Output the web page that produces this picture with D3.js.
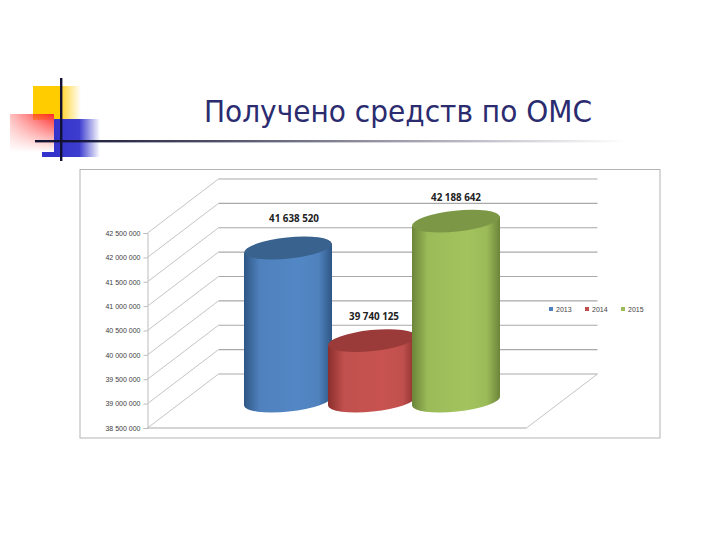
<!DOCTYPE html>
<html>
<head>
  <meta charset="UTF-8">
  <title>ОМС</title>
  <style>
    html, body { margin: 0; padding: 0; background: #fff; }
    svg { display: block; }
  </style>
</head>
<body>
  <div id="chart"></div>
  <script src="https://d3js.org/d3.v7.min.js"></script>
  <script>
    const titleText = "Получено средств по ОМС";
    const years = ["2013", "2014", "2015"];
    const values = [41638520, 39740125, 42188642];
    const valueLabels = ["41 638 520", "39 740 125", "42 188 642"];
    const tickValues = [38500000, 39000000, 39500000, 40000000, 40500000, 41000000, 41500000, 42000000, 42500000];
    const tickLabels = ["38 500 000", "39 000 000", "39 500 000", "40 000 000", "40 500 000", "41 000 000", "41 500 000", "42 000 000", "42 500 000"];
    const barColors = ["#4f81bd", "#c0504d", "#9bbb59"];
    const barEdges = ["#2f5785", "#8a2f2d", "#6c8539"];
    const barTops = ["#39628f", "#9a3b39", "#7c9846"];

    const width = 720, height = 540;
    const svg = d3.select("#chart").append("svg").attr("width", width).attr("height", height);
    const defs = svg.append("defs");

    function fade(id, c, stops, x2, y2) {
      const g = defs.append("linearGradient").attr("id", id)
        .attr("x1", 0).attr("y1", 0).attr("x2", x2).attr("y2", y2);
      stops.forEach(s => g.append("stop").attr("offset", s[0]).attr("stop-color", c).attr("stop-opacity", s[1]));
    }
    // corner decoration
    fade("yellowFade", "#ffcc00", [[0, 1], [0.58, 1], [0.62, 0.75], [1, 0]], 1, 0);
    fade("blueFade", "#3333cc", [[0, 1], [0.55, 0.95], [1, 0]], 1, 0);
    fade("redFade", "#ff2a2a", [[0, 0.3], [1, 1]], 1, 0);
    fade("lineFade", "#111133", [[0, 1], [0.3, 0.75], [1, 0]], 1, 0);
    const whiteDown = defs.append("linearGradient").attr("id", "whiteDown").attr("x1", 0).attr("y1", 0).attr("x2", 0).attr("y2", 1);
    whiteDown.append("stop").attr("offset", 0).attr("stop-color", "#fff").attr("stop-opacity", 0);
    whiteDown.append("stop").attr("offset", 1).attr("stop-color", "#fff").attr("stop-opacity", 1);

    svg.append("rect").attr("x", 33).attr("y", 86).attr("width", 48).attr("height", 34).attr("fill", "url(#yellowFade)");
    svg.append("rect").attr("x", 42).attr("y", 148).attr("width", 14).attr("height", 9).attr("fill", "#3333cc");
    svg.append("rect").attr("x", 54).attr("y", 119).attr("width", 46).attr("height", 38).attr("fill", "url(#blueFade)");
    svg.append("rect").attr("x", 10).attr("y", 114).attr("width", 44).attr("height", 38).attr("fill", "url(#redFade)");
    svg.append("rect").attr("x", 10).attr("y", 114).attr("width", 44).attr("height", 38).attr("fill", "url(#whiteDown)");
    svg.append("rect").attr("x", 35).attr("y", 140).attr("width", 590).attr("height", 2.4).attr("fill", "url(#lineFade)");
    svg.append("rect").attr("x", 60).attr("y", 78).attr("width", 2.4).attr("height", 83).attr("fill", "#111133");

    svg.append("text").attr("x", 204).attr("y", 122)
      .attr("textLength", 388).attr("lengthAdjust", "spacingAndGlyphs")
      .attr("font-family", "'DejaVu Sans', sans-serif").attr("font-size", 30)
      .attr("fill", "#2b2b70").text(titleText);

    // chart frame
    svg.append("rect").attr("x", 80).attr("y", 169.5).attr("width", 580).attr("height", 268.5)
      .attr("fill", "#fff").attr("stroke", "#b4b4b4").attr("stroke-width", 1);

    const depthX = 71, depthY = -54;
    const y = d3.scaleLinear().domain([38500000, 42500000]).range([428, 233]);
    const frontX = 147.5, wallRight = 526.5;
    const x = d3.scalePoint().domain(years).range([288, 456]);
    const grid = svg.append("g").attr("fill", "none");

    grid.selectAll(".wall").data(tickValues).enter().append("line")
      .attr("x1", frontX + depthX).attr("x2", wallRight + depthX)
      .attr("y1", d => y(d) + depthY).attr("y2", d => y(d) + depthY)
      .attr("stroke", "#a9a9a9").attr("stroke-width", 1.2);
    grid.selectAll(".side").data(tickValues).enter().append("line")
      .attr("x1", frontX).attr("x2", frontX + depthX)
      .attr("y1", d => y(d)).attr("y2", d => y(d) + depthY)
      .attr("stroke", "#c4c4c4");
    grid.append("line").attr("x1", wallRight).attr("x2", wallRight + depthX)
      .attr("y1", y(38500000)).attr("y2", y(38500000) + depthY).attr("stroke", "#c4c4c4");
    grid.append("line").attr("x1", frontX).attr("x2", wallRight)
      .attr("y1", y(38500000)).attr("y2", y(38500000)).attr("stroke", "#a9a9a9");

    const axis = d3.axisLeft(y).tickValues(tickValues).tickSize(4).tickPadding(3)
      .tickFormat((d, i) => tickLabels[i]);
    const axisG = svg.append("g").attr("transform", `translate(${frontX},0)`).call(axis);
    axisG.selectAll("path, line").attr("stroke", "#bdbdbd");
    axisG.selectAll("text").attr("font-family", "'Liberation Sans', sans-serif")
      .attr("font-size", 7).attr("fill", "#404040");

    // cylinders
    const rx = 44, ry = 10.5, tilt = -6;
    const tiltDy = rx * Math.sin(-tilt * Math.PI / 180);
    years.forEach((yr, i) => {
      const g = defs.append("linearGradient").attr("id", "bar" + i);
      [[0, barEdges[i]], [0.18, barColors[i]], [0.62, d3.color(barColors[i]).brighter(0.12)], [0.85, barColors[i]], [1, barEdges[i]]]
        .forEach(s => g.append("stop").attr("offset", s[0]).attr("stop-color", s[1]));
    });
    const bars = svg.append("g").selectAll("g").data(years).enter().append("g")
      .attr("transform", d => `translate(${x(d)},0)`);
    bars.append("path")
      .attr("d", (d, i) => {
        const yt = y(values[i]) + depthY / 2, yb = y(38500000) + depthY / 2;
        return `M${-rx},${yt + tiltDy}L${-rx},${yb + tiltDy}A${rx},${ry} ${tilt} 0 0 ${rx},${yb - tiltDy}L${rx},${yt - tiltDy}Z`;
      })
      .attr("fill", (d, i) => `url(#bar${i})`);
    bars.append("ellipse")
      .attr("rx", rx).attr("ry", ry)
      .attr("transform", (d, i) => `translate(0,${y(values[i]) + depthY / 2}) rotate(${tilt})`)
      .attr("fill", (d, i) => barTops[i]);

    // value labels, nudged off the cylinder tops
    const labelDx = [6, 2, 0], labelDy = [-26, -21, -20];
    svg.append("g").selectAll("text").data(years).enter().append("text")
      .attr("x", (d, i) => x(d) + labelDx[i])
      .attr("y", (d, i) => y(values[i]) + depthY / 2 + labelDy[i])
      .attr("text-anchor", "middle")
      .attr("font-family", "'Open Sans', sans-serif").attr("font-weight", 700).attr("font-size", 9.8)
      .attr("fill", "#222").text((d, i) => valueLabels[i]);

    // legend
    const legendX = d3.scalePoint().domain(years).range([549, 621]);
    const legend = svg.append("g").selectAll("g").data(years).enter().append("g")
      .attr("transform", d => `translate(${legendX(d)},309)`);
    legend.append("rect").attr("x", 0).attr("y", -2).attr("width", 4).attr("height", 4)
      .attr("fill", (d, i) => barColors[i]);
    legend.append("text").attr("x", 7).attr("y", 2.5)
      .attr("font-family", "'Liberation Sans', sans-serif").attr("font-size", 7)
      .attr("fill", "#444").text(d => d);
  </script>
</body>
</html>
